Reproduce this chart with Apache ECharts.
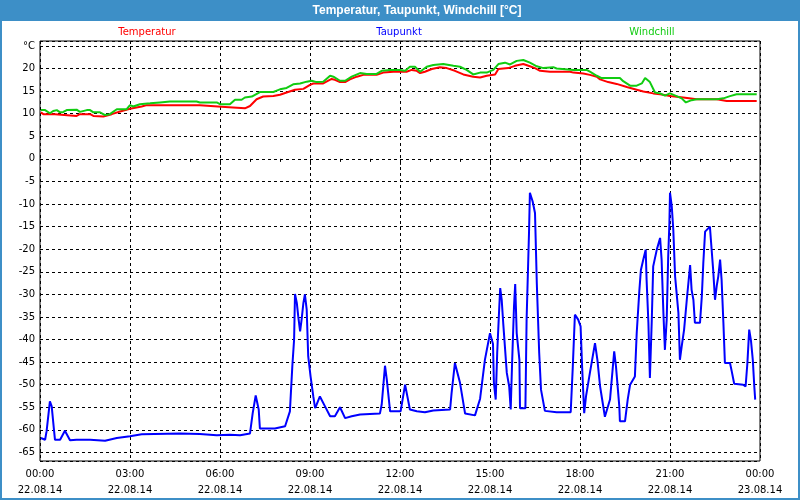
<!DOCTYPE html>
<html><head><meta charset="utf-8">
<script src="https://cdn.jsdelivr.net/npm/echarts@6/dist/echarts.min.js"></script>
<style>html,body{margin:0;padding:0;background:#fff}#c{width:800px;height:500px}</style>
</head><body><div id="c"></div>
<script>
const chartTitle = 'Temperatur, Taupunkt, Windchill [°C]';
const seriesNames = ['Temperatur', 'Taupunkt', 'Windchill'];
const timeLabels = ['00:00','03:00','06:00','09:00','12:00','15:00','18:00','21:00','00:00'];
const dateLabels = ['22.08.14','22.08.14','22.08.14','22.08.14','22.08.14','22.08.14','22.08.14','22.08.14','23.08.14'];

// hours since 22.08.14 00:00
const tempHours = [0.03,0.11,0.5,0.56,1.22,1.33,1.67,1.78,2.11,2.39,2.67,3.0,3.39,3.56,5.33,5.39,6.17,6.22,6.83,7.0,7.22,7.44,7.78,8.0,8.22,8.5,8.78,9.0,9.11,9.44,9.72,9.83,10.0,10.17,10.33,10.56,10.78,11.22,11.44,11.78,12.22,12.39,12.56,12.67,12.83,13.06,13.33,13.56,13.83,14.11,14.44,14.67,14.89,15.17,15.28,15.61,15.83,16.11,16.33,16.5,16.67,17.0,17.67,17.78,18.11,18.33,18.56,18.67,18.94,19.22,19.56,19.89,20.11,20.44,20.67,21.0,21.44,21.89,22.56,22.89,23.89];
const tempValues = [10.3,9.9,9.9,9.5,9.5,9.9,9.9,9.5,9.4,9.9,10.5,11.1,11.6,11.9,11.9,11.5,11.5,11.2,11.2,11.7,13.2,13.8,13.9,14.2,14.7,15.3,15.5,16.4,16.7,16.7,17.7,17.5,17.0,17.0,17.6,18.2,18.6,18.6,19.1,19.3,19.3,19.7,19.5,19.0,19.3,19.9,20.3,20.1,19.5,18.7,18.2,18.0,18.4,18.7,19.9,20.1,20.6,21.0,20.5,20.1,19.5,19.3,19.3,19.1,18.9,18.6,18.2,17.6,17.0,16.6,15.9,15.3,14.9,14.5,14.3,13.9,13.6,13.2,13.2,12.8,12.8];

const dewHours = [0.03,0.17,0.22,0.33,0.39,0.47,0.5,0.67,0.83,1.0,1.22,1.67,2.17,2.56,3.0,3.39,4.67,5.33,5.89,6.33,6.67,7.0,7.09,7.19,7.29,7.33,7.83,8.17,8.33,8.41,8.47,8.5,8.56,8.61,8.67,8.72,8.78,8.83,8.89,8.94,9.02,9.11,9.17,9.22,9.33,9.5,9.67,9.83,10.0,10.17,10.39,10.67,11.33,11.39,11.5,11.56,11.67,12.02,12.17,12.33,12.56,12.83,13.11,13.67,13.72,13.83,14.0,14.17,14.5,14.67,14.83,15.0,15.1,15.13,15.19,15.24,15.3,15.34,15.39,15.44,15.56,15.64,15.69,15.74,15.8,15.84,15.89,15.98,16.0,16.18,16.22,16.3,16.33,16.42,16.5,16.56,16.64,16.7,16.83,17.22,17.69,17.76,17.83,17.94,18.02,18.07,18.14,18.2,18.33,18.5,18.58,18.67,18.83,19.0,19.14,19.2,19.31,19.33,19.5,19.59,19.67,19.83,19.89,19.98,20.03,20.11,20.19,20.22,20.28,20.33,20.39,20.44,20.56,20.67,20.72,20.78,20.83,20.89,20.94,20.98,21.0,21.06,21.11,21.17,21.28,21.33,21.39,21.47,21.56,21.67,21.72,21.78,21.83,22.0,22.06,22.11,22.17,22.33,22.39,22.44,22.5,22.56,22.61,22.67,22.72,22.78,22.83,23.0,23.06,23.14,23.44,23.52,23.58,23.64,23.7,23.76,23.81,23.84];
const dewValues = [-61.8,-62.2,-60.3,-53.7,-54.8,-60.3,-62.2,-62.2,-60.2,-62.3,-62.2,-62.2,-62.4,-61.8,-61.4,-61.0,-60.8,-60.9,-61.2,-61.1,-61.2,-60.8,-56.3,-52.4,-55.5,-59.7,-59.7,-59.2,-55.9,-46,-40,-29.9,-31.9,-35,-38.2,-35.6,-31.9,-30,-33.4,-43.7,-48.2,-52.6,-55.2,-54.4,-52.6,-54.8,-57,-57,-55.0,-57.4,-57,-56.6,-56.4,-54.4,-45.8,-48.9,-55.9,-55.9,-50,-55.5,-55.9,-56.1,-55.7,-55.5,-51.8,-45.2,-49.6,-56.4,-56.8,-53.1,-44.5,-38.6,-41,-49.6,-53.3,-43,-34.1,-28.6,-31.2,-36.3,-47.4,-50.4,-55.5,-44.5,-32.7,-27.7,-38.6,-44.5,-55.2,-55.2,-35.6,-16.4,-7.5,-9.4,-12.0,-27.5,-43,-51.1,-55.8,-56.1,-56.1,-46,-34.5,-35.6,-37.1,-46,-56.3,-52.6,-47.4,-40.8,-44.5,-50.4,-57.1,-53.3,-42.6,-46,-54.8,-58.1,-58.1,-53.3,-50,-48.2,-38.6,-29,-24.6,-22.3,-20.1,-26.8,-36.3,-48.5,-36.3,-23.8,-20.1,-17.5,-22.3,-34.1,-42.3,-35.6,-21.6,-14.2,-7.5,-10.6,-15.7,-26,-34.1,-44.5,-41.5,-37.8,-31.2,-23.5,-29,-31.2,-36.3,-36.3,-30.5,-23.1,-16.1,-15,-20.3,-24.7,-31.2,-28,-26,-22.3,-26.8,-36.3,-45.2,-45.2,-47.1,-49.8,-50,-50.4,-45.2,-37.8,-40.3,-44.5,-50.4,-53.3];

const windHours = [0.03,0.17,0.33,0.44,0.56,0.67,0.78,0.89,1.22,1.33,1.56,1.67,1.78,2.0,2.17,2.33,2.56,2.89,3.0,3.11,3.33,3.67,4.0,4.33,5.22,5.33,5.89,6.0,6.33,6.5,6.72,6.83,7.06,7.33,7.78,7.89,8.0,8.22,8.44,8.67,8.89,9.06,9.22,9.44,9.67,9.78,10.0,10.17,10.39,10.67,10.89,11.22,11.39,11.67,12.0,12.17,12.33,12.5,12.67,12.89,13.11,13.44,13.78,14.0,14.22,14.44,14.67,14.89,15.11,15.28,15.5,15.67,15.89,16.11,16.33,16.56,16.78,17.11,17.22,17.78,18.22,18.33,18.56,18.72,19.33,19.44,19.67,19.89,20.06,20.17,20.33,20.5,20.67,20.83,21.0,21.22,21.39,21.53,21.72,21.89,22.56,22.78,23.0,23.22,23.89];
const windValues = [10.8,10.8,10.1,10.6,10.8,10.3,10.4,10.8,10.9,10.4,10.8,10.8,10.3,10.3,9.7,9.9,11.0,11.0,11.9,11.6,12.1,12.3,12.5,12.7,12.7,12.5,12.5,12.1,12.1,13.1,13.1,13.6,13.8,14.8,14.8,15.1,15.4,15.7,16.5,16.7,17.1,17.3,17.0,17.1,18.4,18.2,17.3,17.3,18.2,19.0,18.8,18.8,19.5,19.7,19.7,19.5,20.4,20.4,19.3,20.4,20.8,21.0,20.6,20.4,19.7,18.7,19.1,19.1,19.7,21.0,21.3,20.9,21.7,21.9,21.3,20.5,20.1,20.3,20.0,19.7,19.7,19.3,18.4,17.9,17.9,17.2,16.2,16.2,16.7,17.9,17.0,14.7,14.5,14.0,14.5,13.9,13.4,12.5,13.0,13.2,13.2,13.4,13.9,14.3,14.3];

const pair = (hs, vs) => hs.map((h, i) => [h, vs[i]]);
const font = 'DejaVu Sans';

const chart = echarts.init(document.getElementById('c'), null, {renderer: 'canvas'});
chart.setOption({
  animation: false,
  backgroundColor: '#ffffff',
  grid: {left: 40, right: 40, top: 41, bottom: 39, show: true, borderColor: '#000', borderWidth: 1, backgroundColor: 'transparent'},
  xAxis: {
    type: 'value', min: 0, max: 24, interval: 3,
    axisLine: {show: false},
    axisTick: {show: true, length: 6, lineStyle: {color: '#000', type: [3, 2]}},
    minorTick: {show: true, splitNumber: 3, length: 3, lineStyle: {color: '#000'}},
    splitLine: {show: true, lineStyle: {color: '#000', type: [3, 3], width: 1}},
    axisLabel: {
      margin: 6, color: '#000', fontFamily: font, fontSize: 10, lineHeight: 15.5,
      formatter: v => { const i = Math.round(v / 3); return timeLabels[i] + '\n' + dateLabels[i]; }
    }
  },
  yAxis: {
    type: 'value', min: -66.9, max: 26.1, minInterval: 5, maxInterval: 5,
    axisLine: {show: false}, axisTick: {show: false},
    splitLine: {show: true, lineStyle: {color: '#000', type: [3, 3], width: 1}},
    axisLabel: {
      margin: 5, color: '#000', fontFamily: font, fontSize: 10, showMinLabel: false, showMaxLabel: false,
      formatter: v => (Math.abs(v - 25) < 1e-6 ? '°C' : (Math.abs(v % 5) < 1e-6 ? String(v) : ''))
    }
  },
  series: [
    {name: seriesNames[0], type: 'line', data: pair(tempHours, tempValues), showSymbol: false, symbol: 'none', lineStyle: {color: '#ff0000', width: 2}, itemStyle: {color: '#ff0000'}},
    {name: seriesNames[1], type: 'line', data: pair(dewHours, dewValues), showSymbol: false, symbol: 'none', lineStyle: {color: '#0000ff', width: 2}, itemStyle: {color: '#0000ff'}},
    {name: seriesNames[2], type: 'line', data: pair(windHours, windValues), showSymbol: false, symbol: 'none', lineStyle: {color: '#11cc11', width: 2}, itemStyle: {color: '#11cc11'}}
  ],
  graphic: [
    {type: 'rect', shape: {x: 0, y: 0, width: 800, height: 21}, style: {fill: '#3d8fc7'}, z: 10},
    {type: 'text', x: 417, y: 10.5, style: {text: chartTitle, fill: '#fff', font: 'bold 12px "Liberation Sans"', textAlign: 'center', textVerticalAlign: 'middle'}, z: 11},
    {type: 'rect', shape: {x: 1, y: 1, width: 798, height: 498}, style: {fill: null, stroke: '#3d8fc7', lineWidth: 2}, z: 10},
    {type: 'text', x: 147, y: 32, style: {text: seriesNames[0], fill: '#ff0000', font: '10px "DejaVu Sans"', textAlign: 'center', textVerticalAlign: 'middle'}, z: 11},
    {type: 'text', x: 399, y: 32, style: {text: seriesNames[1], fill: '#0000ff', font: '10px "DejaVu Sans"', textAlign: 'center', textVerticalAlign: 'middle'}, z: 11},
    {type: 'text', x: 652, y: 32, style: {text: seriesNames[2], fill: '#11cc11', font: '10px "DejaVu Sans"', textAlign: 'center', textVerticalAlign: 'middle'}, z: 11}
  ]
});
</script></body></html>
